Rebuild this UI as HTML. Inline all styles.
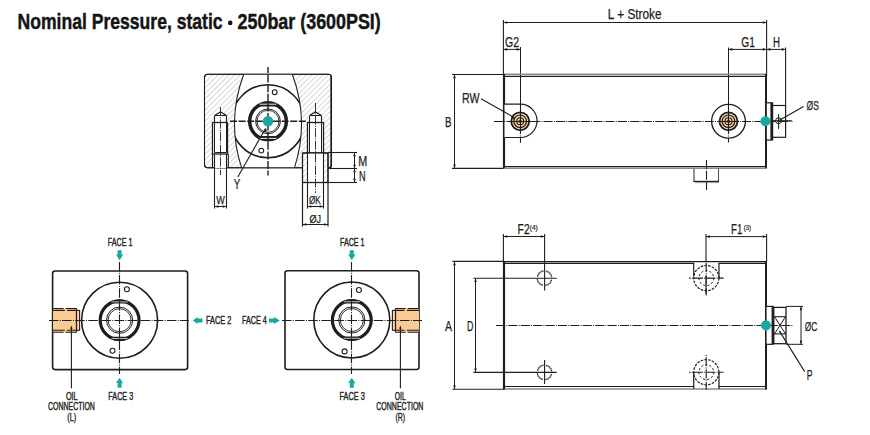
<!DOCTYPE html>
<html><head><meta charset="utf-8"><style>
html,body{margin:0;padding:0;background:#fff;overflow:hidden;width:870px;height:435px;}
svg{display:block;font-family:"Liberation Sans",sans-serif;}
</style></head><body>
<svg width="870" height="435" viewBox="0 0 870 435">
<rect width="870" height="435" fill="#fff"/>
<text x="17.6" y="29" font-size="21.8" font-weight="bold" fill="#151515" stroke="#151515" stroke-width="0.45" textLength="205" lengthAdjust="spacingAndGlyphs">Nominal Pressure, static</text>
<text x="237.6" y="29" font-size="21.8" font-weight="bold" fill="#151515" stroke="#151515" stroke-width="0.45" textLength="143.2" lengthAdjust="spacingAndGlyphs">250bar (3600PSI)</text>
<circle cx="230.2" cy="22.9" r="2.3" fill="#151515" stroke="none" stroke-width="0" />
<defs><pattern id="h" patternUnits="userSpaceOnUse" width="3.9" height="3.9" patternTransform="rotate(45)"><rect width="3.9" height="3.9" fill="#fff"/><line x1="0" y1="0" x2="0" y2="3.9" stroke="#a0a0a0" stroke-width="0.85"/></pattern><clipPath id="bore"><path d="M243.7,74.3 Q226.35,121 241.6,167.8 L294.4,167.8 Q309.65,121 292.3,74.3 Z"/></clipPath></defs>
<rect x="204.5" y="74.3" width="127" height="93.5" rx="3" fill="url(#h)" stroke="#1e1e1e" stroke-width="1.0" />
<path d="M243.7,74.3 Q226.35,121 241.6,167.8 L294.4,167.8 Q309.65,121 292.3,74.3 Z" fill="#fff" stroke="none"/>
<path d="M243.7,74.3 Q226.35,121 241.6,167.8 M292.3,74.3 Q309.65,121 294.4,167.8" fill="none" stroke="#222" stroke-width="1.1"/>
<rect x="204.5" y="74.3" width="127" height="93.5" rx="3" fill="none" stroke="#1e1e1e" stroke-width="1.1" />
<circle cx="268" cy="121.3" r="36.5" fill="none" stroke="#1e1e1e" stroke-width="1.6" clip-path="url(#bore)"/>
<circle cx="268" cy="121.3" r="18.35" fill="none" stroke="#1e1e1e" stroke-width="3.5" />
<path d="M254.59,106.6 H281.41 A19.900000000000002,19.900000000000002 0 0 0 254.59,106.6 Z" fill="#1e1e1e"/>
<path d="M254.59,136.0 H281.41 A19.900000000000002,19.900000000000002 0 0 1 254.59,136.0 Z" fill="#1e1e1e"/>
<line x1="259.6359098830046" y1="104.19999999999999" x2="276.3640901169954" y2="104.19999999999999" stroke="#fff" stroke-width="0.9" />
<line x1="259.6359098830046" y1="138.4" x2="276.3640901169954" y2="138.4" stroke="#fff" stroke-width="0.9" />
<circle cx="268" cy="121.3" r="12.4" fill="none" stroke="#1e1e1e" stroke-width="1.0" />
<circle cx="268" cy="121.3" r="11.0" fill="none" stroke="#1e1e1e" stroke-width="0.9" />
<circle cx="274.7" cy="92.2" r="2.4" fill="none" stroke="#1e1e1e" stroke-width="1.1" />
<circle cx="261.3" cy="150.6" r="2.4" fill="none" stroke="#1e1e1e" stroke-width="1.1" />
<path d="M214.5,168 V115.5 L220.5,112 L226.5,115.5 V168" fill="#fff" stroke="none"/>
<path d="M214.5,115.5 L220.5,112 L226.5,115.5 M214.5,115.5 H226.5" fill="none" stroke="#1e1e1e" stroke-width="1.1"/>
<line x1="214.5" y1="115.5" x2="214.5" y2="122.5" stroke="#1e1e1e" stroke-width="1.1" />
<line x1="226.5" y1="115.5" x2="226.5" y2="122.5" stroke="#1e1e1e" stroke-width="1.1" />
<path d="M309.5,168 V115.5 L315.5,112 L321.5,115.5 V182.7" fill="#fff" stroke="none"/>
<path d="M309.5,115.5 L315.5,112 L321.5,115.5 M309.5,115.5 H321.5" fill="none" stroke="#1e1e1e" stroke-width="1.1"/>
<line x1="309.5" y1="115.5" x2="309.5" y2="122.5" stroke="#1e1e1e" stroke-width="1.1" />
<line x1="321.5" y1="115.5" x2="321.5" y2="122.5" stroke="#1e1e1e" stroke-width="1.1" />
<rect x="212.5" y="122.5" width="15" height="31.5" rx="0" fill="#fff" stroke="#1e1e1e" stroke-width="1.3" />
<line x1="214.5" y1="122.5" x2="214.5" y2="152.5" stroke="#1e1e1e" stroke-width="1.0" />
<line x1="226.5" y1="122.5" x2="226.5" y2="152.5" stroke="#1e1e1e" stroke-width="1.0" />
<line x1="214.5" y1="152.5" x2="226.5" y2="152.5" stroke="#1e1e1e" stroke-width="1.0" />
<line x1="212.5" y1="154" x2="212.5" y2="168" stroke="#1e1e1e" stroke-width="1.1" />
<line x1="214.5" y1="154" x2="214.5" y2="208.5" stroke="#1e1e1e" stroke-width="1.1" />
<line x1="226.5" y1="154" x2="226.5" y2="208.5" stroke="#1e1e1e" stroke-width="1.1" />
<line x1="228.3" y1="154" x2="228.3" y2="168" stroke="#1e1e1e" stroke-width="1.1" />
<rect x="307.5" y="122.5" width="16" height="30.5" rx="0" fill="#fff" stroke="#1e1e1e" stroke-width="1.3" />
<line x1="309.5" y1="122.5" x2="309.5" y2="153" stroke="#1e1e1e" stroke-width="1.0" />
<line x1="321.5" y1="122.5" x2="321.5" y2="153" stroke="#1e1e1e" stroke-width="1.0" />
<rect x="302.5" y="153" width="25.5" height="29.5" rx="0" fill="url(#h)" stroke="#1e1e1e" stroke-width="1.1" />
<rect x="307.5" y="153" width="16" height="29.5" rx="0" fill="#fff" stroke="none" stroke-width="0" />
<line x1="302.5" y1="153" x2="302.5" y2="226.5" stroke="#1e1e1e" stroke-width="1.2" />
<line x1="328" y1="153" x2="328" y2="226.5" stroke="#1e1e1e" stroke-width="1.2" />
<line x1="302.5" y1="153" x2="328" y2="153" stroke="#1e1e1e" stroke-width="1.2" />
<line x1="302.5" y1="182.5" x2="328" y2="182.5" stroke="#1e1e1e" stroke-width="1.2" />
<line x1="307.5" y1="153" x2="307.5" y2="208.5" stroke="#1e1e1e" stroke-width="1.1" />
<line x1="323.5" y1="153" x2="323.5" y2="208.5" stroke="#1e1e1e" stroke-width="1.1" />
<line x1="268" y1="67" x2="268" y2="175.5" stroke="#1e1e1e" stroke-width="1.4" stroke-dasharray="8 1.6" stroke-dashoffset="2"/>
<line x1="230" y1="121.3" x2="306" y2="121.3" stroke="#1e1e1e" stroke-width="1.4" stroke-dasharray="7 1.6" stroke-dashoffset="0"/>
<line x1="220.5" y1="107" x2="220.5" y2="175" stroke="#1e1e1e" stroke-width="0.9" stroke-dasharray="9 1.3 1 1.3"/>
<line x1="315.5" y1="103" x2="315.5" y2="193" stroke="#1e1e1e" stroke-width="0.9" stroke-dasharray="9 1.3 1 1.3"/>
<circle cx="268" cy="121.3" r="5.2" fill="#17a9a1" stroke="none" stroke-width="0" />
<line x1="237.8" y1="177" x2="265.5" y2="128.5" stroke="#1e1e1e" stroke-width="1.1" />
<polygon points="265.8,128 264.5,131.5 267.1,131.5" fill="#1e1e1e"/>
<text x="233.8" y="188.6" font-size="14.3" fill="#1e1e1e" stroke="#1e1e1e" stroke-width="0.25" textLength="6.5" lengthAdjust="spacingAndGlyphs">Y</text>
<line x1="214.5" y1="206.5" x2="226.5" y2="206.5" stroke="#1e1e1e" stroke-width="1.0" />
<polygon points="214.5,206.5 218.3,205.2 218.3,207.8" fill="#1e1e1e"/>
<polygon points="226.5,206.5 222.7,205.2 222.7,207.8" fill="#1e1e1e"/>
<text x="216.3" y="203.6" font-size="10.6" fill="#1e1e1e" stroke="#1e1e1e" stroke-width="0.25" textLength="8.5" lengthAdjust="spacingAndGlyphs">W</text>
<line x1="307.5" y1="206.5" x2="323.5" y2="206.5" stroke="#1e1e1e" stroke-width="1.0" />
<polygon points="307.5,206.5 311.3,205.2 311.3,207.8" fill="#1e1e1e"/>
<polygon points="323.5,206.5 319.7,205.2 319.7,207.8" fill="#1e1e1e"/>
<line x1="302.5" y1="224.5" x2="328" y2="224.5" stroke="#1e1e1e" stroke-width="1.0" />
<polygon points="302.5,224.5 306.3,223.2 306.3,225.8" fill="#1e1e1e"/>
<polygon points="328,224.5 324.2,223.2 324.2,225.8" fill="#1e1e1e"/>
<text x="308.9" y="204.2" font-size="11.3" fill="#1e1e1e" stroke="#1e1e1e" stroke-width="0.25" textLength="11.9" lengthAdjust="spacingAndGlyphs">ØK</text>
<text x="309.4" y="222.8" font-size="11.3" fill="#1e1e1e" stroke="#1e1e1e" stroke-width="0.25" textLength="11.6" lengthAdjust="spacingAndGlyphs">ØJ</text>
<line x1="328" y1="152.5" x2="357" y2="152.5" stroke="#1e1e1e" stroke-width="1.1" />
<line x1="328" y1="168.5" x2="357" y2="168.5" stroke="#1e1e1e" stroke-width="1.1" />
<line x1="328" y1="182.5" x2="357" y2="182.5" stroke="#1e1e1e" stroke-width="1.1" />
<line x1="331" y1="76" x2="331" y2="167.8" stroke="#1e1e1e" stroke-width="1.3" />
<line x1="354.5" y1="152.5" x2="354.5" y2="168.5" stroke="#1e1e1e" stroke-width="1.0" />
<polygon points="354.5,152.5 353.2,156.3 355.8,156.3" fill="#1e1e1e"/>
<polygon points="354.5,168.5 353.2,164.7 355.8,164.7" fill="#1e1e1e"/>
<line x1="354.5" y1="168.5" x2="354.5" y2="182.5" stroke="#1e1e1e" stroke-width="1.0" />
<polygon points="354.5,168.5 353.2,172.3 355.8,172.3" fill="#1e1e1e"/>
<polygon points="354.5,182.5 353.2,178.7 355.8,178.7" fill="#1e1e1e"/>
<text x="358.3" y="165.8" font-size="14.3" fill="#1e1e1e" stroke="#1e1e1e" stroke-width="0.25" textLength="9" lengthAdjust="spacingAndGlyphs">M</text>
<text x="359" y="180.9" font-size="14.3" fill="#1e1e1e" stroke="#1e1e1e" stroke-width="0.25" textLength="6.6" lengthAdjust="spacingAndGlyphs">N</text>
<line x1="503.4" y1="20" x2="503.4" y2="74.5" stroke="#1e1e1e" stroke-width="1.1" />
<line x1="766.6" y1="20" x2="766.6" y2="76" stroke="#1e1e1e" stroke-width="1.1" />
<line x1="503.4" y1="22.5" x2="766.6" y2="22.5" stroke="#1e1e1e" stroke-width="1.0" />
<polygon points="503.4,22.5 507.2,21.2 507.2,23.8" fill="#1e1e1e"/>
<polygon points="766.6,22.5 762.8000000000001,21.2 762.8000000000001,23.8" fill="#1e1e1e"/>
<text x="607.8" y="18.9" font-size="14.3" fill="#1e1e1e" stroke="#1e1e1e" stroke-width="0.25" textLength="53.8" lengthAdjust="spacingAndGlyphs">L + Stroke</text>
<line x1="520.5" y1="47" x2="520.5" y2="104" stroke="#1e1e1e" stroke-width="1.0" />
<line x1="503.4" y1="49.4" x2="520.5" y2="49.4" stroke="#1e1e1e" stroke-width="1.0" />
<polygon points="503.4,49.4 507.2,48.1 507.2,50.699999999999996" fill="#1e1e1e"/>
<polygon points="520.5,49.4 516.7,48.1 516.7,50.699999999999996" fill="#1e1e1e"/>
<text x="505" y="47" font-size="14.3" fill="#1e1e1e" stroke="#1e1e1e" stroke-width="0.25" textLength="14" lengthAdjust="spacingAndGlyphs">G2</text>
<line x1="728.5" y1="47.5" x2="728.5" y2="104" stroke="#1e1e1e" stroke-width="1.0" />
<line x1="785.6" y1="47.5" x2="785.6" y2="105.5" stroke="#1e1e1e" stroke-width="1.1" />
<line x1="728.5" y1="49.4" x2="766.6" y2="49.4" stroke="#1e1e1e" stroke-width="1.0" />
<polygon points="728.5,49.4 732.3,48.1 732.3,50.699999999999996" fill="#1e1e1e"/>
<polygon points="766.6,49.4 762.8000000000001,48.1 762.8000000000001,50.699999999999996" fill="#1e1e1e"/>
<line x1="766.6" y1="49.4" x2="785.6" y2="49.4" stroke="#1e1e1e" stroke-width="1.0" />
<polygon points="766.6,49.4 770.4,48.1 770.4,50.699999999999996" fill="#1e1e1e"/>
<polygon points="785.6,49.4 781.8000000000001,48.1 781.8000000000001,50.699999999999996" fill="#1e1e1e"/>
<text x="741.3" y="47" font-size="14.3" fill="#1e1e1e" stroke="#1e1e1e" stroke-width="0.25" textLength="13.7" lengthAdjust="spacingAndGlyphs">G1</text>
<text x="773" y="47" font-size="14.3" fill="#1e1e1e" stroke="#1e1e1e" stroke-width="0.25" textLength="7" lengthAdjust="spacingAndGlyphs">H</text>
<line x1="504" y1="74.2" x2="766.2" y2="74.2" stroke="#8a8a8a" stroke-width="1.4" />
<line x1="504" y1="76.4" x2="766.2" y2="76.4" stroke="#1e1e1e" stroke-width="1.3" />
<line x1="504" y1="166.6" x2="766.2" y2="166.6" stroke="#1e1e1e" stroke-width="1.3" />
<line x1="504" y1="168.4" x2="766.2" y2="168.4" stroke="#8a8a8a" stroke-width="1.4" />
<line x1="504" y1="74" x2="504" y2="168.6" stroke="#1e1e1e" stroke-width="2.2" />
<line x1="766" y1="74" x2="766" y2="168.6" stroke="#1e1e1e" stroke-width="2.0" />
<line x1="452" y1="74.5" x2="503.4" y2="74.5" stroke="#1e1e1e" stroke-width="1.1" />
<line x1="452" y1="168.4" x2="503.4" y2="168.4" stroke="#1e1e1e" stroke-width="1.1" />
<line x1="454.5" y1="74.5" x2="454.5" y2="168.4" stroke="#1e1e1e" stroke-width="1.0" />
<polygon points="454.5,74.5 453.2,78.3 455.8,78.3" fill="#1e1e1e"/>
<polygon points="454.5,168.4 453.2,164.6 455.8,164.6" fill="#1e1e1e"/>
<text x="445" y="127" font-size="14.3" fill="#1e1e1e" stroke="#1e1e1e" stroke-width="0.25" textLength="6.5" lengthAdjust="spacingAndGlyphs">B</text>
<path d="M504.5,104.2 H520.4 A16.65,16.65 0 0 1 520.4,137.5 H504.5" fill="#fff" stroke="#1e1e1e" stroke-width="1.2"/>
<circle cx="520.2" cy="121.3" r="9.0" fill="#f5d8aa" stroke="#1e1e1e" stroke-width="1.8" />
<circle cx="520.2" cy="121.3" r="6.3" fill="none" stroke="#2a1c10" stroke-width="1.2" />
<circle cx="520.2" cy="121.3" r="3.5" fill="none" stroke="#2a1c10" stroke-width="1.1" />
<circle cx="520.2" cy="121.3" r="1.3" fill="none" stroke="#2a1c10" stroke-width="0.9" />
<circle cx="728.5" cy="121.3" r="16.9" fill="none" stroke="#1e1e1e" stroke-width="1.3" />
<circle cx="728.5" cy="121.3" r="9.0" fill="#f5d8aa" stroke="#1e1e1e" stroke-width="1.8" />
<circle cx="728.5" cy="121.3" r="6.3" fill="none" stroke="#2a1c10" stroke-width="1.2" />
<circle cx="728.5" cy="121.3" r="3.5" fill="none" stroke="#2a1c10" stroke-width="1.1" />
<circle cx="728.5" cy="121.3" r="1.3" fill="none" stroke="#2a1c10" stroke-width="0.9" />
<line x1="728.5" y1="104" x2="728.5" y2="142.4" stroke="#1e1e1e" stroke-width="1.1" stroke-dasharray="30 1.5 1 1.5"/>
<line x1="520.5" y1="104" x2="520.5" y2="142.7" stroke="#1e1e1e" stroke-width="1.1" stroke-dasharray="30 1.5 1 1.5"/>
<rect x="693.5" y="168.4" width="25" height="13.2" rx="0" fill="#fff" stroke="none" stroke-width="0" />
<line x1="504" y1="168.4" x2="766" y2="168.4" stroke="#8a8a8a" stroke-width="1.4" />
<line x1="694" y1="168.4" x2="694" y2="182" stroke="#7a7a7a" stroke-width="1.6" />
<line x1="718.5" y1="168.4" x2="718.5" y2="182" stroke="#555" stroke-width="1.1" />
<line x1="693.5" y1="181.4" x2="719" y2="181.4" stroke="#222" stroke-width="1.2" />
<line x1="695" y1="182.6" x2="719" y2="182.6" stroke="#999" stroke-width="1.0" />
<line x1="706.5" y1="160" x2="706.5" y2="190" stroke="#1e1e1e" stroke-width="1.1" stroke-dasharray="9 1.8 9 2.5" stroke-dashoffset="0"/>
<rect x="766.2" y="102.8" width="6.4" height="37.2" rx="0" fill="#fff" stroke="#1e1e1e" stroke-width="1.2" />
<line x1="771.5" y1="102.8" x2="771.5" y2="140" stroke="#1e1e1e" stroke-width="2.2" />
<rect x="772.6" y="105.5" width="13" height="31.8" rx="0" fill="#fff" stroke="#1e1e1e" stroke-width="1.2" />
<circle cx="778.6" cy="120.7" r="3" fill="none" stroke="#1e1e1e" stroke-width="1.0" />
<line x1="778.6" y1="114" x2="778.6" y2="129" stroke="#1e1e1e" stroke-width="1.0" />
<line x1="772.3" y1="120.7" x2="791.8" y2="120.7" stroke="#1e1e1e" stroke-width="1.0" />
<line x1="510" y1="121.5" x2="531" y2="121.5" stroke="#1e1e1e" stroke-width="1.1" />
<line x1="718" y1="121.5" x2="739" y2="121.5" stroke="#1e1e1e" stroke-width="1.1" />
<line x1="494" y1="121.5" x2="792.5" y2="121.5" stroke="#1e1e1e" stroke-width="1.1" stroke-dasharray="9 1.2 1 1.2"/>
<circle cx="765.4" cy="121.3" r="5" fill="#17a9a1" stroke="none" stroke-width="0" />
<line x1="481" y1="98.7" x2="514.5" y2="117.8" stroke="#1e1e1e" stroke-width="1.1" />
<polygon points="515.5,118.4 512.5,117.2 512.5,119.60000000000001" fill="#1e1e1e"/>
<text x="462" y="103.4" font-size="14.3" fill="#1e1e1e" stroke="#1e1e1e" stroke-width="0.25" textLength="17.5" lengthAdjust="spacingAndGlyphs">RW</text>
<line x1="803.6" y1="106.5" x2="779" y2="120.5" stroke="#1e1e1e" stroke-width="1.2" />
<text x="806.5" y="109.6" font-size="13.2" fill="#1e1e1e" stroke="#1e1e1e" stroke-width="0.25" textLength="12.4" lengthAdjust="spacingAndGlyphs">ØS</text>
<line x1="504" y1="261.6" x2="766.2" y2="261.6" stroke="#1e1e1e" stroke-width="1.3" />
<line x1="504" y1="263.4" x2="766.2" y2="263.4" stroke="#1e1e1e" stroke-width="1.1" />
<line x1="504" y1="386.5" x2="766" y2="386.5" stroke="#1e1e1e" stroke-width="1.2" />
<line x1="504" y1="389" x2="766" y2="389" stroke="#8a8a8a" stroke-width="1.4" />
<line x1="504" y1="261" x2="504" y2="389.5" stroke="#1e1e1e" stroke-width="2.2" />
<line x1="766" y1="261" x2="766" y2="389.5" stroke="#1e1e1e" stroke-width="2.0" />
<line x1="452.4" y1="261.4" x2="504" y2="261.4" stroke="#1e1e1e" stroke-width="1.1" />
<line x1="452.4" y1="389.2" x2="504" y2="389.2" stroke="#1e1e1e" stroke-width="1.1" />
<line x1="454.5" y1="261.5" x2="454.5" y2="389.2" stroke="#1e1e1e" stroke-width="1.0" />
<polygon points="454.5,261.5 453.2,265.3 455.8,265.3" fill="#1e1e1e"/>
<polygon points="454.5,389.2 453.2,385.4 455.8,385.4" fill="#1e1e1e"/>
<text x="445" y="331" font-size="14.3" fill="#1e1e1e" stroke="#1e1e1e" stroke-width="0.25" textLength="7" lengthAdjust="spacingAndGlyphs">A</text>
<line x1="473.4" y1="278.2" x2="556.7" y2="278.2" stroke="#1e1e1e" stroke-width="1.1" />
<line x1="473.4" y1="372.4" x2="556.7" y2="372.4" stroke="#1e1e1e" stroke-width="1.1" />
<line x1="475.5" y1="278.2" x2="475.5" y2="372.2" stroke="#1e1e1e" stroke-width="1.0" />
<polygon points="475.5,278.2 474.2,282.0 476.8,282.0" fill="#1e1e1e"/>
<polygon points="475.5,372.2 474.2,368.4 476.8,368.4" fill="#1e1e1e"/>
<text x="467" y="331" font-size="14.3" fill="#1e1e1e" stroke="#1e1e1e" stroke-width="0.25" textLength="6.4" lengthAdjust="spacingAndGlyphs">D</text>
<line x1="503.4" y1="234" x2="503.4" y2="261" stroke="#1e1e1e" stroke-width="1.1" />
<line x1="544.6" y1="234" x2="544.6" y2="290.6" stroke="#1e1e1e" stroke-width="1.1" />
<line x1="544.6" y1="360" x2="544.6" y2="384" stroke="#1e1e1e" stroke-width="1.1" />
<line x1="503.4" y1="236.5" x2="544.6" y2="236.5" stroke="#1e1e1e" stroke-width="1.0" />
<polygon points="503.4,236.5 507.2,235.2 507.2,237.8" fill="#1e1e1e"/>
<polygon points="544.6,236.5 540.8000000000001,235.2 540.8000000000001,237.8" fill="#1e1e1e"/>
<text x="517.6" y="233.8" font-size="14.3" fill="#1e1e1e" stroke="#1e1e1e" stroke-width="0.25" textLength="12" lengthAdjust="spacingAndGlyphs">F2</text>
<text x="529.8" y="229.6" font-size="7.4" fill="#1e1e1e" stroke="#1e1e1e" stroke-width="0.2" textLength="8.0" lengthAdjust="spacingAndGlyphs">(4)</text>
<line x1="706" y1="234" x2="706" y2="294" stroke="#1e1e1e" stroke-width="1.1" />
<line x1="766.6" y1="234" x2="766.6" y2="261" stroke="#1e1e1e" stroke-width="1.1" />
<line x1="706" y1="236.6" x2="766.6" y2="236.6" stroke="#1e1e1e" stroke-width="1.0" />
<polygon points="706,236.6 709.8,235.29999999999998 709.8,237.9" fill="#1e1e1e"/>
<polygon points="766.6,236.6 762.8000000000001,235.29999999999998 762.8000000000001,237.9" fill="#1e1e1e"/>
<text x="731" y="233.6" font-size="14.3" fill="#1e1e1e" stroke="#1e1e1e" stroke-width="0.25" textLength="11.3" lengthAdjust="spacingAndGlyphs">F1</text>
<text x="743.8" y="229.6" font-size="7.4" fill="#1e1e1e" stroke="#1e1e1e" stroke-width="0.2" textLength="7.3" lengthAdjust="spacingAndGlyphs">(3)</text>
<path d="M552.30,276.96 L551.08,276.80 L551.00,276.46 L552.01,275.76 L550.78,275.79 L550.65,275.46 L551.54,274.61 L550.33,274.83 L550.14,274.53 L550.89,273.56 L549.73,273.96 L549.50,273.70 L550.09,272.61 L549.00,273.20 L548.74,272.97 L549.14,271.81 L548.17,272.56 L547.87,272.37 L548.09,271.16 L547.24,272.05 L546.91,271.92 L546.94,270.69 L546.24,271.70 L545.90,271.62 L545.74,270.40 M543.26,270.40 L543.10,271.62 L542.76,271.70 L542.06,270.69 L542.09,271.92 L541.76,272.05 L540.91,271.16 L541.13,272.37 L540.83,272.56 L539.86,271.81 L540.26,272.97 L540.00,273.20 L538.91,272.61 L539.50,273.70 L539.27,273.96 L538.11,273.56 L538.86,274.53 L538.67,274.83 L537.46,274.61 L538.35,275.46 L538.22,275.79 L536.99,275.76 L538.00,276.46 L537.92,276.80 L536.70,276.96 M536.70,279.44 L537.92,279.60 L538.00,279.94 L536.99,280.64 L538.22,280.61 L538.35,280.94 L537.46,281.79 L538.67,281.56 L538.86,281.87 L538.11,282.84 L539.27,282.44 L539.50,282.70 L538.91,283.79 L540.00,283.20 L540.26,283.43 L539.86,284.59 L540.83,283.84 L541.13,284.03 L540.91,285.24 L541.76,284.35 L542.09,284.48 L542.06,285.71 L542.76,284.70 L543.10,284.78 L543.26,286.00 M545.74,286.00 L545.90,284.78 L546.24,284.70 L546.94,285.71 L546.91,284.48 L547.24,284.35 L548.09,285.24 L547.87,284.03 L548.17,283.84 L549.14,284.59 L548.74,283.43 L549.00,283.20 L550.09,283.79 L549.50,282.70 L549.73,282.44 L550.89,282.84 L550.14,281.87 L550.33,281.56 L551.54,281.79 L550.65,280.94 L550.78,280.61 L552.01,280.64 L551.00,279.94 L551.08,279.60 L552.30,279.44" fill="none" stroke="#2a2a2a" stroke-width="0.9" stroke-dasharray="3.2 1.3"/>
<path d="M552.30,371.16 L551.08,371.00 L551.00,370.66 L552.01,369.96 L550.78,369.99 L550.65,369.66 L551.54,368.81 L550.33,369.03 L550.14,368.73 L550.89,367.76 L549.73,368.16 L549.50,367.90 L550.09,366.81 L549.00,367.40 L548.74,367.17 L549.14,366.01 L548.17,366.76 L547.87,366.57 L548.09,365.36 L547.24,366.25 L546.91,366.12 L546.94,364.89 L546.24,365.90 L545.90,365.82 L545.74,364.60 M543.26,364.60 L543.10,365.82 L542.76,365.90 L542.06,364.89 L542.09,366.12 L541.76,366.25 L540.91,365.36 L541.13,366.57 L540.83,366.76 L539.86,366.01 L540.26,367.17 L540.00,367.40 L538.91,366.81 L539.50,367.90 L539.27,368.16 L538.11,367.76 L538.86,368.73 L538.67,369.03 L537.46,368.81 L538.35,369.66 L538.22,369.99 L536.99,369.96 L538.00,370.66 L537.92,371.00 L536.70,371.16 M536.70,373.64 L537.92,373.80 L538.00,374.14 L536.99,374.84 L538.22,374.81 L538.35,375.14 L537.46,375.99 L538.67,375.76 L538.86,376.07 L538.11,377.04 L539.27,376.64 L539.50,376.90 L538.91,377.99 L540.00,377.40 L540.26,377.63 L539.86,378.79 L540.83,378.04 L541.13,378.23 L540.91,379.44 L541.76,378.55 L542.09,378.68 L542.06,379.91 L542.76,378.90 L543.10,378.98 L543.26,380.20 M545.74,380.20 L545.90,378.98 L546.24,378.90 L546.94,379.91 L546.91,378.68 L547.24,378.55 L548.09,379.44 L547.87,378.23 L548.17,378.04 L549.14,378.79 L548.74,377.63 L549.00,377.40 L550.09,377.99 L549.50,376.90 L549.73,376.64 L550.89,377.04 L550.14,376.07 L550.33,375.76 L551.54,375.99 L550.65,375.14 L550.78,374.81 L552.01,374.84 L551.00,374.14 L551.08,373.80 L552.30,373.64" fill="none" stroke="#2a2a2a" stroke-width="0.9" stroke-dasharray="3.2 1.3"/>
<rect x="694.3" y="262.5" width="24.1" height="13" rx="0" fill="#fff" stroke="none" stroke-width="0" />
<line x1="693.7" y1="263.4" x2="693.7" y2="276.4" stroke="#1e1e1e" stroke-width="1.2" />
<line x1="719" y1="263.4" x2="719" y2="278.2" stroke="#1e1e1e" stroke-width="1.2" />
<rect x="694.3" y="385.4" width="24.1" height="2.6" rx="0" fill="#fff" stroke="none" stroke-width="0" />
<line x1="693.7" y1="372.4" x2="693.7" y2="389" stroke="#1e1e1e" stroke-width="1.2" />
<line x1="719" y1="372.4" x2="719" y2="389" stroke="#1e1e1e" stroke-width="1.2" />
<circle cx="706.3" cy="278.1" r="12.6" fill="none" stroke="#1e1e1e" stroke-width="1.2" stroke-dasharray="2.6 1.2"/>
<circle cx="706.3" cy="278.1" r="7.4" fill="none" stroke="#1e1e1e" stroke-width="1.0" stroke-dasharray="2.2 2"/>
<line x1="689" y1="278.1" x2="723.6" y2="278.1" stroke="#1e1e1e" stroke-width="1.1" stroke-dasharray="9 1.2 1 1.2" stroke-dashoffset="-5"/>
<line x1="706.2" y1="260.1" x2="706.2" y2="295.6" stroke="#1e1e1e" stroke-width="1.1" stroke-dasharray="9 1.2 1 1.2" stroke-dashoffset="-3"/>
<circle cx="706.3" cy="372.2" r="12.6" fill="none" stroke="#1e1e1e" stroke-width="1.2" stroke-dasharray="2.6 1.2"/>
<circle cx="706.3" cy="372.2" r="7.4" fill="none" stroke="#1e1e1e" stroke-width="1.0" stroke-dasharray="2.2 2"/>
<line x1="689" y1="372.2" x2="723.6" y2="372.2" stroke="#1e1e1e" stroke-width="1.1" stroke-dasharray="9 1.2 1 1.2" stroke-dashoffset="-5"/>
<line x1="706.2" y1="354.2" x2="706.2" y2="389.7" stroke="#1e1e1e" stroke-width="1.1" stroke-dasharray="9 1.2 1 1.2" stroke-dashoffset="-3"/>
<rect x="766" y="306.4" width="7" height="37.9" rx="0" fill="#fff" stroke="#1e1e1e" stroke-width="1.2" />
<line x1="772.8" y1="306.4" x2="772.8" y2="344.3" stroke="#1e1e1e" stroke-width="2.4" />
<rect x="773.8" y="307.4" width="12.2" height="36.3" rx="0" fill="#fff" stroke="#1e1e1e" stroke-width="1.3" />
<line x1="773.8" y1="316.7" x2="786" y2="316.7" stroke="#1e1e1e" stroke-width="1.1" />
<line x1="773.8" y1="333.9" x2="786" y2="333.9" stroke="#1e1e1e" stroke-width="1.1" />
<line x1="774.5" y1="316.7" x2="785.5" y2="333.9" stroke="#1e1e1e" stroke-width="1.0" />
<line x1="785.5" y1="316.7" x2="774.5" y2="333.9" stroke="#1e1e1e" stroke-width="1.0" />
<circle cx="779.8" cy="331.6" r="0.9" fill="#1e1e1e" stroke="none" stroke-width="0" />
<line x1="786" y1="306.4" x2="803" y2="306.4" stroke="#1e1e1e" stroke-width="1.0" />
<line x1="786" y1="344.3" x2="803" y2="344.3" stroke="#1e1e1e" stroke-width="1.0" />
<line x1="801" y1="306.4" x2="801" y2="344.3" stroke="#1e1e1e" stroke-width="1.0" />
<polygon points="801,306.4 799.7,310.2 802.3,310.2" fill="#1e1e1e"/>
<polygon points="801,344.3 799.7,340.5 802.3,340.5" fill="#1e1e1e"/>
<text x="804.7" y="331.2" font-size="13.2" fill="#1e1e1e" stroke="#1e1e1e" stroke-width="0.25" textLength="12.6" lengthAdjust="spacingAndGlyphs">ØC</text>
<line x1="496" y1="325.5" x2="793.3" y2="325.5" stroke="#1e1e1e" stroke-width="1.1" stroke-dasharray="9 1.2 1 1.2"/>
<circle cx="766" cy="325.4" r="5" fill="#17a9a1" stroke="none" stroke-width="0" />
<line x1="779.8" y1="331.6" x2="804.7" y2="371.6" stroke="#1e1e1e" stroke-width="1.1" />
<text x="806.8" y="380.3" font-size="14.3" fill="#1e1e1e" stroke="#1e1e1e" stroke-width="0.25" textLength="5.8" lengthAdjust="spacingAndGlyphs">P</text>
<rect x="52.6" y="271" width="135" height="98.6" rx="2.5" fill="none" stroke="#1e1e1e" stroke-width="1.6" />
<circle cx="119.6" cy="320.2" r="38" fill="none" stroke="#1e1e1e" stroke-width="1.6" />
<circle cx="119.6" cy="320.2" r="19.4" fill="none" stroke="#1e1e1e" stroke-width="3.1999999999999993" />
<path d="M107.07,303.59999999999997 H132.13 A20.8,20.8 0 0 0 107.07,303.59999999999997 Z" fill="#1e1e1e"/>
<path d="M107.07,336.8 H132.13 A20.8,20.8 0 0 1 107.07,336.8 Z" fill="#1e1e1e"/>
<line x1="111.49902917196636" y1="301.9" x2="127.70097082803363" y2="301.9" stroke="#fff" stroke-width="0.7" />
<line x1="111.49902917196636" y1="338.5" x2="127.70097082803363" y2="338.5" stroke="#fff" stroke-width="0.7" />
<circle cx="119.6" cy="320.2" r="13.1" fill="none" stroke="#1e1e1e" stroke-width="1.0" />
<circle cx="119.6" cy="320.2" r="11.5" fill="none" stroke="#1e1e1e" stroke-width="0.9" />
<circle cx="126.9" cy="289.3" r="2.5" fill="none" stroke="#1e1e1e" stroke-width="1.1" />
<circle cx="112.5" cy="350.8" r="2.5" fill="none" stroke="#1e1e1e" stroke-width="1.1" />
<rect x="53" y="308.5" width="23.5" height="23.8" rx="0" fill="#f9cb94" stroke="none" stroke-width="0" />
<rect x="76.5" y="310.4" width="3.1" height="19.9" fill="#fadcbc" stroke="#2a1a10" stroke-width="1.1"/>
<line x1="76.5" y1="308.5" x2="76.5" y2="332.3" stroke="#2a1a10" stroke-width="1.2" />
<path d="M53,308.5 H63.6 M65.6,308.5 H76.5" stroke="#2a1a10" stroke-width="1.1"/>
<path d="M53,332.3 H63.6 M65.6,332.3 H76.5" stroke="#2a1a10" stroke-width="1.1"/>
<path d="M53,310.4 H64.8 M67.1,310.4 H76.5" stroke="#2a1a10" stroke-width="1.1"/>
<path d="M53,330.3 H64.8 M67.1,330.3 H76.5" stroke="#2a1a10" stroke-width="1.1"/>
<line x1="71.4" y1="326.6" x2="71.4" y2="388.3" stroke="#1e1e1e" stroke-width="1.1" />
<polygon points="71.4,325.8 70.2,328.8 72.60000000000001,328.8" fill="#1e1e1e"/>
<rect x="285" y="270.8" width="134" height="98.7" rx="2.5" fill="none" stroke="#1e1e1e" stroke-width="1.6" />
<circle cx="351.8" cy="320" r="38" fill="none" stroke="#1e1e1e" stroke-width="1.6" />
<circle cx="351.8" cy="320" r="19.4" fill="none" stroke="#1e1e1e" stroke-width="3.1999999999999993" />
<path d="M339.27,303.4 H364.33 A20.8,20.8 0 0 0 339.27,303.4 Z" fill="#1e1e1e"/>
<path d="M339.27,336.6 H364.33 A20.8,20.8 0 0 1 339.27,336.6 Z" fill="#1e1e1e"/>
<line x1="343.6990291719664" y1="301.7" x2="359.9009708280336" y2="301.7" stroke="#fff" stroke-width="0.7" />
<line x1="343.6990291719664" y1="338.3" x2="359.9009708280336" y2="338.3" stroke="#fff" stroke-width="0.7" />
<circle cx="351.8" cy="320" r="13.1" fill="none" stroke="#1e1e1e" stroke-width="1.0" />
<circle cx="351.8" cy="320" r="11.5" fill="none" stroke="#1e1e1e" stroke-width="0.9" />
<circle cx="358.9" cy="290" r="2.5" fill="none" stroke="#1e1e1e" stroke-width="1.1" />
<circle cx="344.6" cy="351.4" r="2.5" fill="none" stroke="#1e1e1e" stroke-width="1.1" />
<rect x="395.5" y="308.5" width="23.5" height="23.8" rx="0" fill="#f9cb94" stroke="none" stroke-width="0" />
<rect x="392.4" y="310.4" width="3.1" height="19.9" fill="#fadcbc" stroke="#2a1a10" stroke-width="1.1"/>
<line x1="395.5" y1="308.5" x2="395.5" y2="332.3" stroke="#2a1a10" stroke-width="1.2" />
<path d="M395.5,308.5 H405.7 M407.7,308.5 H419" stroke="#2a1a10" stroke-width="1.1"/>
<path d="M395.5,332.3 H405.7 M407.7,332.3 H419" stroke="#2a1a10" stroke-width="1.1"/>
<path d="M395.5,310.4 H404.5 M406.9,310.4 H419" stroke="#2a1a10" stroke-width="1.1"/>
<path d="M395.5,330.3 H404.5 M406.9,330.3 H419" stroke="#2a1a10" stroke-width="1.1"/>
<line x1="400.4" y1="326.6" x2="400.4" y2="388.3" stroke="#1e1e1e" stroke-width="1.1" />
<polygon points="400.4,325.8 399.2,328.8 401.59999999999997,328.8" fill="#1e1e1e"/>
<line x1="119.5" y1="262" x2="119.5" y2="374" stroke="#1e1e1e" stroke-width="1.1" stroke-dasharray="9.5 1.3 1 1.3"/>
<line x1="49" y1="320.5" x2="188.7" y2="320.5" stroke="#1e1e1e" stroke-width="1.1" stroke-dasharray="9.5 1.3 1 1.3"/>
<line x1="351.5" y1="262" x2="351.5" y2="374" stroke="#1e1e1e" stroke-width="1.1" stroke-dasharray="9.5 1.3 1 1.3"/>
<line x1="282" y1="320.5" x2="422" y2="320.5" stroke="#1e1e1e" stroke-width="1.1" stroke-dasharray="9.5 1.3 1 1.3"/>
<path d="M117.6,250.2 h4 v4.4 h1.6 L119.6,260.2 L116.0,254.6 h1.6 z" fill="#17a9a1"/>
<path d="M117.6,387.7 h4 v-4.4 h1.6 L119.6,377.7 L116.0,383.1 h1.6 z" fill="#17a9a1"/>
<path d="M349.8,250.2 h4 v4.4 h1.6 L351.8,260.2 L348.2,254.6 h1.6 z" fill="#17a9a1"/>
<path d="M349.8,387.7 h4 v-4.4 h1.6 L351.8,377.7 L348.2,383.1 h1.6 z" fill="#17a9a1"/>
<path d="M202.5,318.5 v4 h-5 v1.6 L192.8,320.5 L197.5,316.9 v1.6 z" fill="#17a9a1"/>
<path d="M269,318.5 v4 h5 v1.6 L279.8,320.5 L274,316.9 v1.6 z" fill="#17a9a1"/>
<text x="107.8" y="245.8" font-size="10" fill="#1e1e1e" stroke="#1e1e1e" stroke-width="0.38" textLength="24.6" lengthAdjust="spacingAndGlyphs">FACE 1</text>
<text x="340" y="245.8" font-size="10" fill="#1e1e1e" stroke="#1e1e1e" stroke-width="0.38" textLength="24.5" lengthAdjust="spacingAndGlyphs">FACE 1</text>
<text x="108.3" y="400.2" font-size="10" fill="#1e1e1e" stroke="#1e1e1e" stroke-width="0.38" textLength="24.9" lengthAdjust="spacingAndGlyphs">FACE 3</text>
<text x="339.5" y="400.2" font-size="10" fill="#1e1e1e" stroke="#1e1e1e" stroke-width="0.38" textLength="25.3" lengthAdjust="spacingAndGlyphs">FACE 3</text>
<text x="206" y="324.4" font-size="10" fill="#1e1e1e" stroke="#1e1e1e" stroke-width="0.38" textLength="25.3" lengthAdjust="spacingAndGlyphs">FACE 2</text>
<text x="241.9" y="324.4" font-size="10" fill="#1e1e1e" stroke="#1e1e1e" stroke-width="0.38" textLength="24.8" lengthAdjust="spacingAndGlyphs">FACE 4</text>
<text x="65.9" y="400" font-size="10" fill="#1e1e1e" stroke="#1e1e1e" stroke-width="0.38" textLength="11.8" lengthAdjust="spacingAndGlyphs">OIL</text>
<text x="47.9" y="409.9" font-size="10" fill="#1e1e1e" stroke="#1e1e1e" stroke-width="0.38" textLength="47" lengthAdjust="spacingAndGlyphs">CONNECTION</text>
<text x="67.3" y="420.7" font-size="10" fill="#1e1e1e" stroke="#1e1e1e" stroke-width="0.38" textLength="8.9" lengthAdjust="spacingAndGlyphs">(L)</text>
<text x="394.7" y="400" font-size="10" fill="#1e1e1e" stroke="#1e1e1e" stroke-width="0.38" textLength="11" lengthAdjust="spacingAndGlyphs">OIL</text>
<text x="376.3" y="409.8" font-size="10" fill="#1e1e1e" stroke="#1e1e1e" stroke-width="0.38" textLength="47.1" lengthAdjust="spacingAndGlyphs">CONNECTION</text>
<text x="395.4" y="420.8" font-size="10" fill="#1e1e1e" stroke="#1e1e1e" stroke-width="0.38" textLength="9.6" lengthAdjust="spacingAndGlyphs">(R)</text>
</svg></body></html>
